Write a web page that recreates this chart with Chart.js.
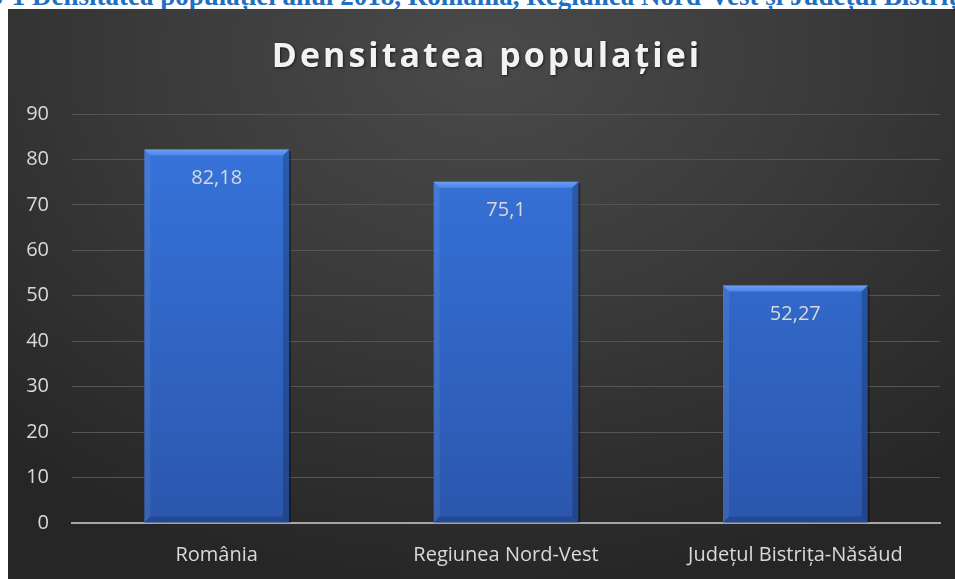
<!DOCTYPE html>
<html lang="ro">
<head>
<meta charset="utf-8">
<script src="https://cdn.jsdelivr.net/npm/chart.js@4"></script>
<style>
    html, body { margin: 0; padding: 0; background: #fff; overflow: hidden; }
    body { width: 955px; height: 579px; position: relative; }
    .caption {
        position: absolute; left: 32px; top: -17px;
        font: bold 27px/27px "Liberation Serif", "Times New Roman", serif;
        color: #1f70c1; white-space: nowrap;
    }
    .caption .prefix { position: absolute; right: 100%; }
    .box {
        position: absolute; left: 8px; top: 9px; width: 958px; height: 570px;
        background: radial-gradient(ellipse 75% 95% at 50% 8%, #4a4a4a 0%, #3b3b3b 45%, #262626 100%);
    }
</style>
</head>
<body>
<div class="caption"><span class="prefix">Figura 3-1&nbsp;</span>Densitatea populației anul 2018, România, Regiunea Nord-Vest și Județul Bistrița-Năsăud</div>
<div class="box"><canvas id="densityChart" width="958" height="570"></canvas></div>
<script>
// values
const regions = ["România", "Regiunea Nord-Vest", "Județul Bistrița-Năsăud"];
const density = [82.18, 75.1, 52.27];
const densityLabels = ["82,18", "75,1", "52,27"];
const yTicks = [0, 10, 20, 30, 40, 50, 60, 70, 80, 90];

const chartTitle = "Densitatea populației";
const textColor = "#d9d9d9";
const uiFont = "'Open Sans', 'Noto Sans', sans-serif";

// title drawn by hand so it can be letter-spaced
const titlePlugin = {
    id: 'spacedTitle',
    afterDraw(chart) {
        const ctx = chart.ctx;
        ctx.save();
        ctx.font = "bold 34px " + uiFont;
        ctx.letterSpacing = "3px";
        ctx.fillStyle = "#f2f2f2";
        ctx.textAlign = "center";
        ctx.textBaseline = "alphabetic";
        ctx.shadowColor = "rgba(0,0,0,0.6)";
        ctx.shadowBlur = 3;
        ctx.shadowOffsetX = 1;
        ctx.shadowOffsetY = 1;
        ctx.fillText(chartTitle, chart.width / 2, 58);
        ctx.restore();
    }
};

// bevelled edges on the bars plus the value labels inside them
const bevelPlugin = {
    id: 'bevel',
    afterDatasetsDraw(chart) {
        const ctx = chart.ctx;
        const meta = chart.getDatasetMeta(0);
        const b = 6;
        meta.data.forEach((bar, i) => {
            const L = bar.x - bar.width / 2, R = bar.x + bar.width / 2;
            const T = bar.y, B = bar.base;
            ctx.save();
            const poly = (pts, fill) => {
                ctx.beginPath();
                ctx.moveTo(pts[0][0], pts[0][1]);
                pts.slice(1).forEach(p => ctx.lineTo(p[0], p[1]));
                ctx.closePath();
                ctx.fillStyle = fill;
                ctx.fill();
            };
            // soft shadow on the right
            ctx.fillStyle = "rgba(0,0,0,0.35)";
            ctx.fillRect(R, T + 2, 2, B - T - 2);
            const topG = ctx.createLinearGradient(0, T, 0, T + b);
            topG.addColorStop(0, "#6aa0f2");
            topG.addColorStop(1, "#4c86e6");
            poly([[L, T], [R, T], [R - b, T + b], [L + b, T + b]], topG);
            poly([[L, T], [L + b, T + b], [L + b, B - b], [L, B]], "rgba(255,255,255,0.07)");
            poly([[R, T], [R, B], [R - b, B - b], [R - b, T + b]], "rgba(0,0,0,0.20)");
            poly([[L, B], [L + b, B - b], [R - b, B - b], [R, B]], "rgba(0,0,0,0.16)");

            ctx.font = "20px " + uiFont;
            ctx.fillStyle = textColor;
            ctx.textAlign = "center";
            ctx.textBaseline = "middle";
            ctx.fillText(densityLabels[i], bar.x, T + 29);
            ctx.restore();
        });
    }
};

const ctx = document.getElementById("densityChart").getContext("2d");

new Chart(ctx, {
    type: 'bar',
    data: {
        labels: regions,
        datasets: [{
            label: chartTitle,
            data: density,
            backgroundColor: (c) => {
                const area = c.chart.chartArea;
                if (!area) return "#3268c8";
                const g = c.chart.ctx.createLinearGradient(0, area.top, 0, area.bottom);
                g.addColorStop(0, "#3775de");
                g.addColorStop(1, "#2b57ad");
                return g;
            },
            borderWidth: 0,
            categoryPercentage: 1,
            barPercentage: 0.5
        }]
    },
    options: {
        responsive: false,
        animation: false,
        layout: { padding: { top: 105, right: 26, bottom: 0, left: 0 } },
        plugins: {
            legend: { display: false },
            title: { display: false },
            tooltip: { enabled: false }
        },
        scales: {
            x: {
                afterFit: (scale) => { scale.height = 56; },
                grid: { display: false, drawTicks: false },
                border: { color: "#a6a6a6", width: 2 },
                ticks: {
                    color: textColor,
                    padding: 20,
                    font: { family: uiFont, size: 20 }
                }
            },
            y: {
                min: 0,
                max: 90,
                afterFit: (scale) => { scale.width = 64; },
                afterBuildTicks: (scale) => { scale.ticks = yTicks.map(v => ({ value: v })); },
                grid: {
                    color: (c) => c.tick && c.tick.value === 0 ? "#a6a6a6" : "#555555",
                    lineWidth: 1,
                    drawTicks: false
                },
                border: { display: false },
                ticks: {
                    color: textColor,
                    padding: 23,
                    font: { family: uiFont, size: 20 }
                }
            }
        }
    },
    plugins: [titlePlugin, bevelPlugin]
});
</script>
</body>
</html>
